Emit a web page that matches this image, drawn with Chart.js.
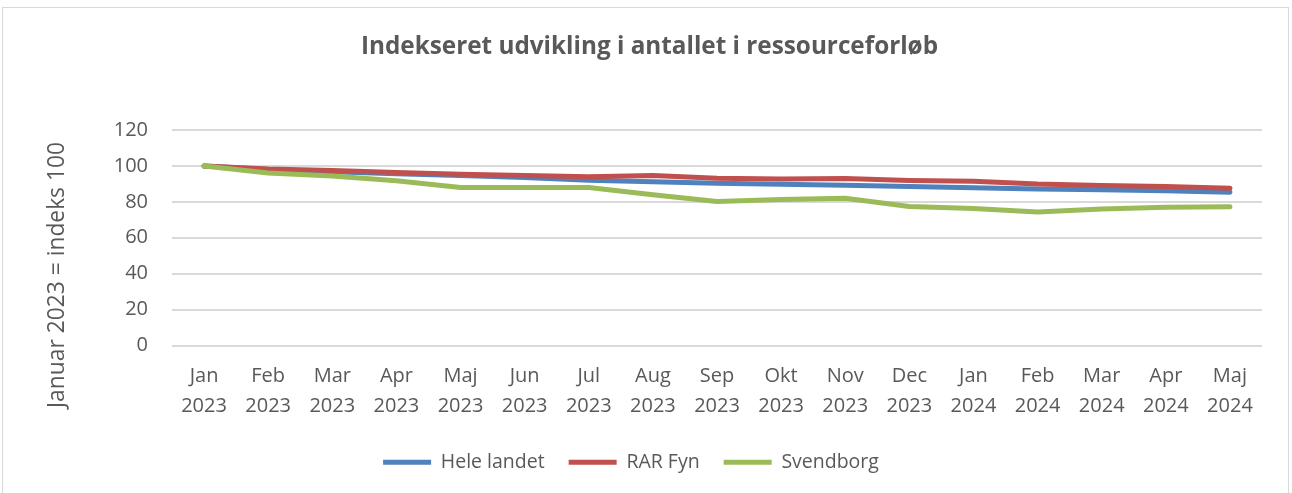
<!DOCTYPE html>
<html>
<head>
<meta charset="utf-8">
<script src="https://cdn.jsdelivr.net/npm/chart.js@4.4.1/dist/chart.umd.min.js"></script>
<style>
  html, body { margin: 0; padding: 0; background: #ffffff; }
  #wrap { position: relative; width: 1292px; height: 493px; }
</style>
</head>
<body>
<div id="wrap"><canvas id="c" width="1292" height="493"></canvas></div>
<script>
const chartTitle = 'Indekseret udvikling i antallet i ressourceforløb';
const yAxisTitle = 'Januar 2023 = indeks 100';
const months = ['Jan','Feb','Mar','Apr','Maj','Jun','Jul','Aug','Sep','Okt','Nov','Dec','Jan','Feb','Mar','Apr','Maj'];
const years  = ['2023','2023','2023','2023','2023','2023','2023','2023','2023','2023','2023','2023','2024','2024','2024','2024','2024'];
const seriesNames = ['Hele landet', 'RAR Fyn', 'Svendborg'];
const heleLandet = [100, 98.0, 96.8, 95.6, 94.6, 93.5, 92.0, 91.2, 90.4, 89.8, 89.3, 88.6, 87.9, 87.1, 86.7, 86.2, 85.4];
const rarFyn     = [100, 98.3, 97.5, 96.3, 95.4, 94.6, 94.0, 94.6, 93.1, 92.7, 93.0, 91.9, 91.5, 89.9, 89.1, 88.5, 87.5];
const svendborg  = [100, 96.0, 94.4, 91.8, 88.0, 88.0, 88.0, 84.0, 80.2, 81.3, 82.0, 77.4, 76.3, 74.4, 76.0, 77.0, 77.3];
const yTicks = { min: 0, max: 120, step: 20 };
const colors = ['#4F81BD', '#C0504D', '#9BBB59'];
const textColor = '#595959';
const FONT = "'Open Sans', 'Liberation Sans', sans-serif";

const labels = months.map((m, i) => [m, years[i]]);

const framePlugin = {
  id: 'frame',
  beforeDraw(chart) {
    const ctx = chart.ctx;
    ctx.save();
    ctx.fillStyle = '#ffffff';
    ctx.fillRect(0, 0, chart.width, chart.height);
    ctx.strokeStyle = '#d9d9d9';
    ctx.lineWidth = 1;
    ctx.strokeRect(2.5, 7.5, 1286, 500);
    ctx.restore();
  },
  afterDraw(chart) {
    const ctx = chart.ctx;
    ctx.save();
    ctx.fillStyle = textColor;
    ctx.font = "bold 24.3px " + FONT;
    ctx.textAlign = 'center';
    ctx.textBaseline = 'middle';
    ctx.fillText(chartTitle, 649.5, 47);
    ctx.restore();

    ctx.save();
    ctx.translate(58, 275);
    ctx.rotate(-Math.PI / 2);
    ctx.fillStyle = textColor;
    ctx.font = "22.8px " + FONT;
    ctx.textAlign = 'center';
    ctx.textBaseline = 'middle';
    ctx.fillText(yAxisTitle, 0, 0);
    ctx.restore();
  }
};

const mk = (name, data, color, order) => ({
  label: name,
  data: data,
  borderColor: color,
  backgroundColor: color,
  borderWidth: 5,
  pointRadius: 0,
  pointHoverRadius: 0,
  tension: 0,
  fill: false,
  borderCapStyle: 'round',
  borderJoinStyle: 'round',
  order: order
});

new Chart(document.getElementById('c'), {
  type: 'line',
  data: {
    labels: labels,
    datasets: [
      mk(seriesNames[0], heleLandet, colors[0], 2),
      mk(seriesNames[1], rarFyn, colors[1], 1),
      mk(seriesNames[2], svendborg, colors[2], 0)
    ]
  },
  options: {
    responsive: false,
    animation: false,
    events: [],
    layout: { padding: { left: 0, right: 30, top: 130, bottom: 11 } },
    plugins: {
      title: { display: false },
      legend: {
        position: 'bottom',
        labels: {
          color: textColor,
          font: { family: FONT, size: 19.5 },
          boxWidth: 48,
          boxHeight: 5,
          padding: 24,
          generateLabels(chart) {
            return chart.data.datasets.map((ds, i) => ({
              text: ds.label,
              fillStyle: ds.borderColor,
              strokeStyle: ds.borderColor,
              lineWidth: 0,
              fontColor: textColor,
              datasetIndex: i
            }));
          }
        }
      },
      tooltip: { enabled: false }
    },
    scales: {
      x: {
        offset: true,
        grid: { display: false, drawTicks: false },
        border: { display: false },
        ticks: {
          color: textColor,
          font: { family: FONT, size: 20, lineHeight: 1.5 },
          padding: 16,
          maxRotation: 0,
          autoSkip: false
        },
        afterFit(scale) { scale.height = 83; }
      },
      y: {
        min: yTicks.min,
        max: yTicks.max,
        grid: { color: '#d9d9d9', lineWidth: 2, drawTicks: false },
        border: { display: false },
        ticks: {
          stepSize: yTicks.step,
          color: textColor,
          font: { family: FONT, size: 20 },
          padding: 24
        },
        afterFit(scale) { scale.width = 172; }
      }
    }
  },
  plugins: [framePlugin]
});
</script>
</body>
</html>
